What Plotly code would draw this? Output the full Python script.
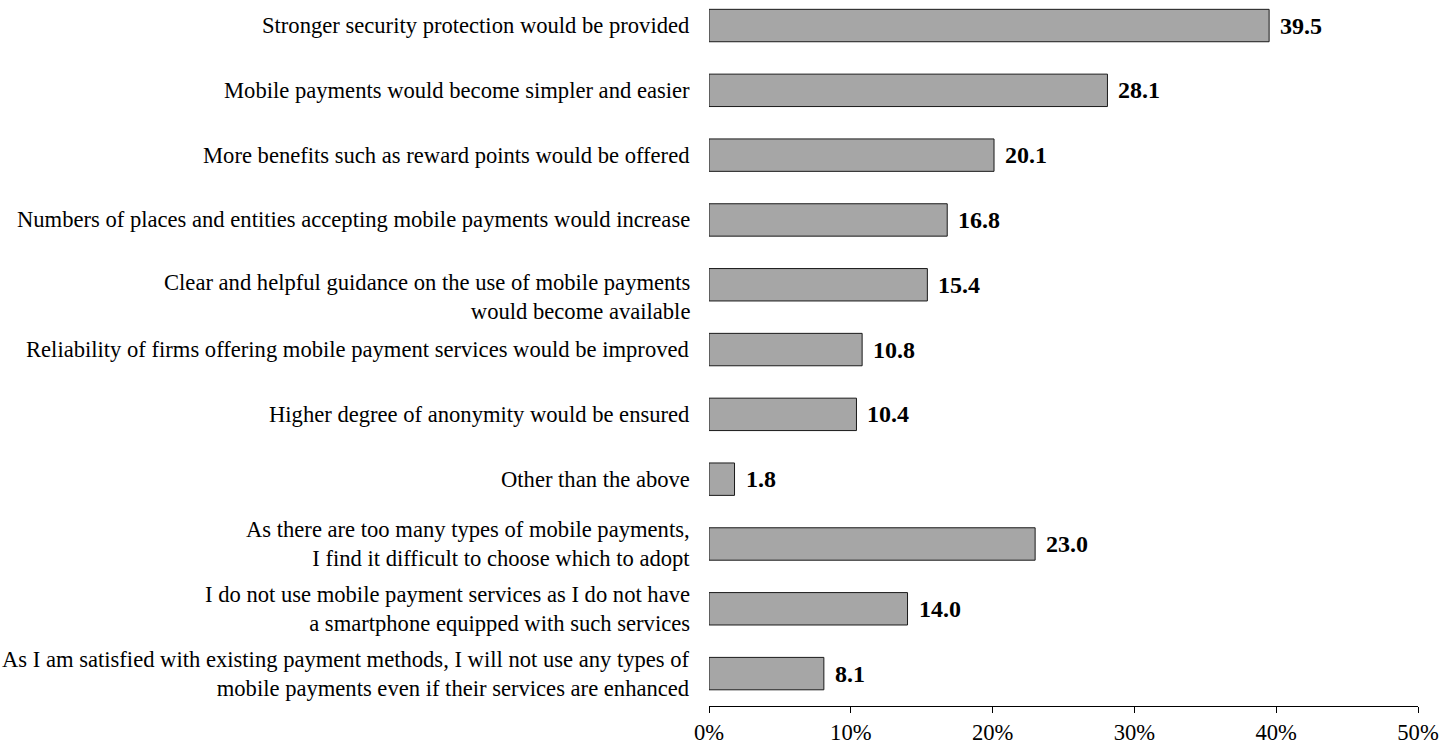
import plotly.graph_objects as go

categories = [
    "Stronger security protection would be provided",
    "Mobile payments would become simpler and easier",
    "More benefits such as reward points would be offered",
    "Numbers of places and entities accepting mobile payments would increase",
    "Clear and helpful guidance on the use of mobile payments<br>would become available",
    "Reliability of firms offering mobile payment services would be improved",
    "Higher degree of anonymity would be ensured",
    "Other than the above",
    "As there are too many types of mobile payments,<br>I find it difficult to choose which to adopt",
    "I do not use mobile payment services as I do not have<br>a smartphone equipped with such services",
    "As I am satisfied with existing payment methods, I will not use any types of<br>mobile payments even if their services are enhanced",
]
values = [39.5, 28.1, 20.1, 16.8, 15.4, 10.8, 10.4, 1.8, 23.0, 14.0, 8.1]
x_tickvals = [0, 10, 20, 30, 40, 50]
x_ticktext = ["0%", "10%", "20%", "30%", "40%", "50%"]

FONT = "Times New Roman, Liberation Serif, serif"
n = len(categories)
ypos = list(range(n))
# in the original, the wrapped label of the 5th item sits a little lower
label_yshift = {4: -12}

fig = go.Figure()
fig.add_trace(go.Bar(
    x=values, y=ypos, orientation="h", width=0.5,
    marker=dict(color="#a6a6a6", line=dict(color="#1a1a1a", width=1)),
    hoverinfo="skip",
))

for v, y in zip(values, ypos):
    fig.add_annotation(
        x=v, y=y, text=f"<b>{v:.1f}</b>", showarrow=False,
        xanchor="left", yanchor="middle", xshift=9,
        font=dict(family=FONT, size=24, color="black"),
    )

for i, (lab, y) in enumerate(zip(categories, ypos)):
    fig.add_annotation(
        xref="paper", x=0, y=y, text=lab, showarrow=False,
        xanchor="right", yanchor="middle", align="right",
        xshift=-17, yshift=label_yshift.get(i, 0),
        font=dict(family=FONT, size=22.6, color="black"),
    )

fig.update_layout(
    width=1454, height=745,
    margin=dict(l=709, r=36, t=0, b=39, autoexpand=False),
    paper_bgcolor="white", plot_bgcolor="white",
    showlegend=False,
    font=dict(family=FONT, size=22.6, color="black"),
    xaxis=dict(
        range=[0, 50], tickvals=x_tickvals, ticktext=x_ticktext,
        showgrid=False, zeroline=False, showline=True, linecolor="black", linewidth=1,
        ticks="outside", ticklen=6, tickcolor="black", tickwidth=1,
        tickfont=dict(family=FONT, size=22.6, color="black"),
        fixedrange=True, automargin=False,
    ),
    yaxis=dict(
        range=[n - 0.5, -0.394], tickvals=ypos, showticklabels=False,
        showgrid=False, zeroline=False, showline=False, ticks="",
        fixedrange=True, automargin=False,
    ),
)

fig.write_html(
    "out.html",
    config={"displayModeBar": False},
    post_script="document.body.style.margin='0';document.body.style.overflow='hidden';",
)
